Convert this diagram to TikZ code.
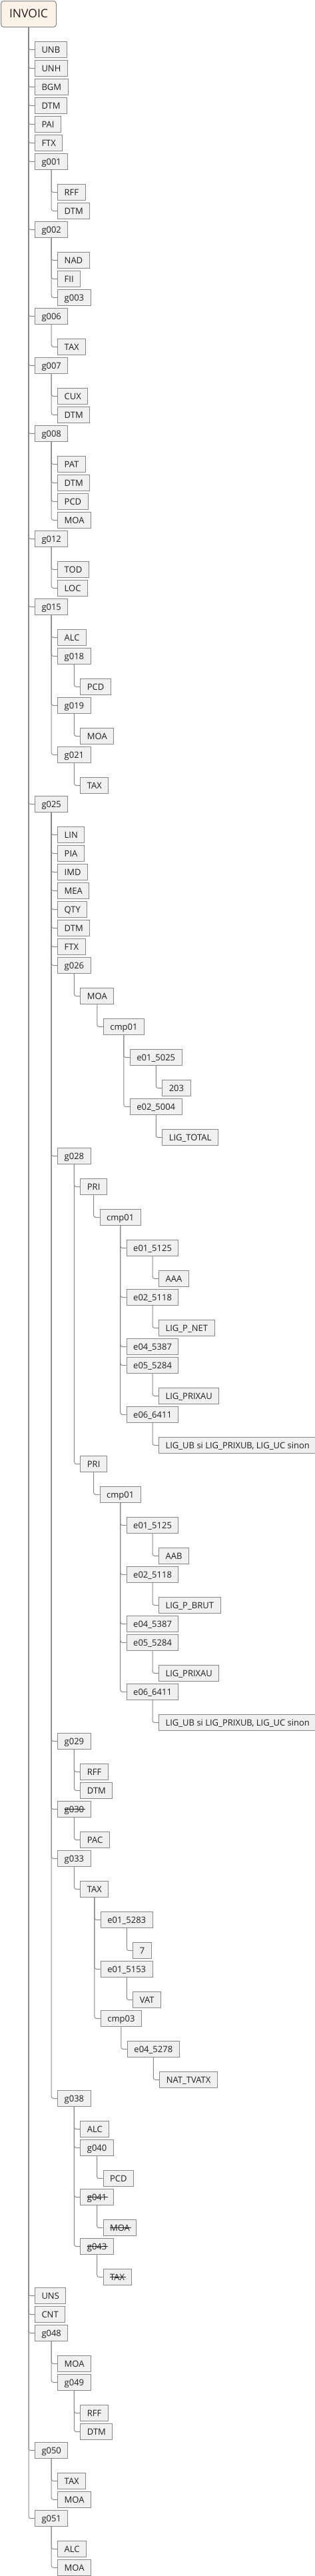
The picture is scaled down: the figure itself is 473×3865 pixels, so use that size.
\documentclass[tikz,border=0pt]{standalone}
\usepackage{fontspec}
\setmainfont{Open Sans}

\newlength\strucklen
\newcommand\struck[1]{\settowidth\strucklen{#1}%
  \rlap{\rule[0.33em]{\dimexpr\strucklen+2pt\relax}{0.9pt}}#1}

\begin{document}
\begin{tikzpicture}[x=1pt,y=1pt,
  box/.style={draw=edge,fill=boxfill,text=ink,anchor=north west,xshift=9pt,
    minimum height=24pt,inner xsep=10pt,inner ysep=3pt,
    text height=14pt,text depth=4pt,line width=1pt,
    font=\fontsize{13pt}{15pt}\selectfont},
  rootbox/.style={draw=edge,fill=rootfill,text=ink,anchor=north west,
    rounded corners=4pt,minimum width=83pt,minimum height=39pt,inner ysep=3pt,
    text height=22pt,text depth=11pt,line width=1pt,
    font=\fontsize{17.5pt}{20pt}\selectfont},
  link/.style={draw=edge,line width=1pt,rounded corners=3pt}]
  \colorlet{edge}{black!47}
  \colorlet{boxfill}{black!6}
  \definecolor{rootfill}{HTML}{FDF2E8}
  \colorlet{ink}{black!88}

  \useasboundingbox (0,0) rectangle (473,-3865);

  \node[rootbox] (invoic) at (1,-1) {INVOIC};

  % first level
  \node[box] (unb) at (invoic.south |- 0,-62) {UNB};
  \node[box] (unh) at (invoic.south |- 0,-90) {UNH};
  \node[box] (bgm) at (invoic.south |- 0,-118) {BGM};
  \node[box] (dtm) at (invoic.south |- 0,-146) {DTM};
  \node[box] (pai) at (invoic.south |- 0,-174) {PAI};
  \node[box] (ftx) at (invoic.south |- 0,-202) {FTX};
  \node[box] (g001) at (invoic.south |- 0,-230) {g001};
  \node[box] (g001rff) at (g001.south |- 0,-276) {RFF};
  \node[box] (g001dtm) at (g001.south |- 0,-304) {DTM};
  \node[box] (g002) at (invoic.south |- 0,-332) {g002};
  \node[box] (g002nad) at (g002.south |- 0,-378) {NAD};
  \node[box] (g002fii) at (g002.south |- 0,-406) {FII};
  \node[box] (g003) at (g002.south |- 0,-434) {g003};
  \node[box] (g006) at (invoic.south |- 0,-462) {g006};
  \node[box] (g006tax) at (g006.south |- 0,-508) {TAX};
  \node[box] (g007) at (invoic.south |- 0,-536) {g007};
  \node[box] (g007cux) at (g007.south |- 0,-582) {CUX};
  \node[box] (g007dtm) at (g007.south |- 0,-610) {DTM};
  \node[box] (g008) at (invoic.south |- 0,-638) {g008};
  \node[box] (g008pat) at (g008.south |- 0,-684) {PAT};
  \node[box] (g008dtm) at (g008.south |- 0,-712) {DTM};
  \node[box] (g008pcd) at (g008.south |- 0,-740) {PCD};
  \node[box] (g008moa) at (g008.south |- 0,-768) {MOA};
  \node[box] (g012) at (invoic.south |- 0,-796) {g012};
  \node[box] (g012tod) at (g012.south |- 0,-842) {TOD};
  \node[box] (g012loc) at (g012.south |- 0,-870) {LOC};
  \node[box] (g015) at (invoic.south |- 0,-898) {g015};
  \node[box] (g015alc) at (g015.south |- 0,-944) {ALC};
  \node[box] (g018) at (g015.south |- 0,-972) {g018};
  \node[box] (g018pcd) at (g018.south |- 0,-1018) {PCD};
  \node[box] (g019) at (g015.south |- 0,-1046) {g019};
  \node[box] (g019moa) at (g019.south |- 0,-1092) {MOA};
  \node[box] (g021) at (g015.south |- 0,-1120) {g021};
  \node[box] (g021tax) at (g021.south |- 0,-1166) {TAX};

  % line items
  \node[box] (g025) at (invoic.south |- 0,-1194) {g025};
  \node[box] (lin) at (g025.south |- 0,-1240) {LIN};
  \node[box] (pia) at (g025.south |- 0,-1268) {PIA};
  \node[box] (imd) at (g025.south |- 0,-1296) {IMD};
  \node[box] (mea) at (g025.south |- 0,-1324) {MEA};
  \node[box] (qty) at (g025.south |- 0,-1352) {QTY};
  \node[box] (g025dtm) at (g025.south |- 0,-1380) {DTM};
  \node[box] (g025ftx) at (g025.south |- 0,-1408) {FTX};
  \node[box] (g026) at (g025.south |- 0,-1436) {g026};
  \node[box] (g026moa) at (g026.south |- 0,-1482) {MOA};
  \node[box] (moacmp) at (g026moa.south |- 0,-1528) {cmp01};
  \node[box] (e5025) at (moacmp.south |- 0,-1574) {e01\_5025};
  \node[box] (v203) at (e5025.south |- 0,-1620) {203};
  \node[box] (e5004) at (moacmp.south |- 0,-1648) {e02\_5004};
  \node[box] (ligtotal) at (e5004.south |- 0,-1694) {LIG\_TOTAL};

  \node[box] (g028) at (g025.south |- 0,-1722) {g028};
  \node[box] (pria) at (g028.south |- 0,-1768) {PRI};
  \node[box] (pricmpa) at (pria.south |- 0,-1814) {cmp01};
  \node[box] (aa5125) at (pricmpa.south |- 0,-1860) {e01\_5125};
  \node[box] (aaa) at (aa5125.south |- 0,-1906) {AAA};
  \node[box] (aa5118) at (pricmpa.south |- 0,-1934) {e02\_5118};
  \node[box] (pnet) at (aa5118.south |- 0,-1980) {LIG\_P\_NET};
  \node[box] (aa5387) at (pricmpa.south |- 0,-2008) {e04\_5387};
  \node[box] (aa5284) at (pricmpa.south |- 0,-2036) {e05\_5284};
  \node[box] (aaprixau) at (aa5284.south |- 0,-2082) {LIG\_PRIXAU};
  \node[box] (aa6411) at (pricmpa.south |- 0,-2110) {e06\_6411};
  \node[box] (aaub) at (aa6411.south |- 0,-2156) {LIG\_UB si LIG\_PRIXUB, LIG\_UC sinon};
  \node[box] (prib) at (g028.south |- 0,-2184) {PRI};
  \node[box] (pricmpb) at (prib.south |- 0,-2230) {cmp01};
  \node[box] (ab5125) at (pricmpb.south |- 0,-2276) {e01\_5125};
  \node[box] (aab) at (ab5125.south |- 0,-2322) {AAB};
  \node[box] (ab5118) at (pricmpb.south |- 0,-2350) {e02\_5118};
  \node[box] (pbrut) at (ab5118.south |- 0,-2396) {LIG\_P\_BRUT};
  \node[box] (ab5387) at (pricmpb.south |- 0,-2424) {e04\_5387};
  \node[box] (ab5284) at (pricmpb.south |- 0,-2452) {e05\_5284};
  \node[box] (abprixau) at (ab5284.south |- 0,-2498) {LIG\_PRIXAU};
  \node[box] (ab6411) at (pricmpb.south |- 0,-2526) {e06\_6411};
  \node[box] (abub) at (ab6411.south |- 0,-2572) {LIG\_UB si LIG\_PRIXUB, LIG\_UC sinon};

  \node[box] (g029) at (g025.south |- 0,-2600) {g029};
  \node[box] (g029rff) at (g029.south |- 0,-2646) {RFF};
  \node[box] (g029dtm) at (g029.south |- 0,-2674) {DTM};
  \node[box] (g030) at (g025.south |- 0,-2702) {\struck{g030}};
  \node[box] (pac) at (g030.south |- 0,-2748) {PAC};
  \node[box] (g033) at (g025.south |- 0,-2776) {g033};
  \node[box] (g033tax) at (g033.south |- 0,-2822) {TAX};
  \node[box] (e5283) at (g033tax.south |- 0,-2868) {e01\_5283};
  \node[box] (v7) at (e5283.south |- 0,-2914) {7};
  \node[box] (e5153) at (g033tax.south |- 0,-2942) {e01\_5153};
  \node[box] (vat) at (e5153.south |- 0,-2988) {VAT};
  \node[box] (cmp03) at (g033tax.south |- 0,-3016) {cmp03};
  \node[box] (e5278) at (cmp03.south |- 0,-3062) {e04\_5278};
  \node[box] (nattvatx) at (e5278.south |- 0,-3108) {NAT\_TVATX};
  \node[box] (g038) at (g025.south |- 0,-3136) {g038};
  \node[box] (g038alc) at (g038.south |- 0,-3182) {ALC};
  \node[box] (g040) at (g038.south |- 0,-3210) {g040};
  \node[box] (g040pcd) at (g040.south |- 0,-3256) {PCD};
  \node[box] (g041) at (g038.south |- 0,-3284) {\struck{g041}};
  \node[box] (g041moa) at (g041.south |- 0,-3330) {\struck{MOA}};
  \node[box] (g043) at (g038.south |- 0,-3358) {\struck{g043}};
  \node[box] (g043tax) at (g043.south |- 0,-3404) {\struck{TAX}};

  % trailer
  \node[box] (uns) at (invoic.south |- 0,-3432) {UNS};
  \node[box] (cnt) at (invoic.south |- 0,-3460) {CNT};
  \node[box] (g048) at (invoic.south |- 0,-3488) {g048};
  \node[box] (g048moa) at (g048.south |- 0,-3534) {MOA};
  \node[box] (g049) at (g048.south |- 0,-3562) {g049};
  \node[box] (g049rff) at (g049.south |- 0,-3608) {RFF};
  \node[box] (g049dtm) at (g049.south |- 0,-3636) {DTM};
  \node[box] (g050) at (invoic.south |- 0,-3664) {g050};
  \node[box] (g050tax) at (g050.south |- 0,-3710) {TAX};
  \node[box] (g050moa) at (g050.south |- 0,-3738) {MOA};
  \node[box] (g051) at (invoic.south |- 0,-3766) {g051};
  \node[box] (g051alc) at (g051.south |- 0,-3812) {ALC};
  \node[box] (g051moa) at (g051.south |- 0,-3840) {MOA};

  \foreach \p/\c in {invoic/unb,invoic/unh,invoic/bgm,invoic/dtm,invoic/pai,
      invoic/ftx,invoic/g001,invoic/g002,invoic/g006,invoic/g007,invoic/g008,
      invoic/g012,invoic/g015,invoic/g025,invoic/uns,invoic/cnt,invoic/g048,
      invoic/g050,invoic/g051,
      g001/g001rff,g001/g001dtm,g002/g002nad,g002/g002fii,g002/g003,
      g006/g006tax,g007/g007cux,g007/g007dtm,g008/g008pat,g008/g008dtm,
      g008/g008pcd,g008/g008moa,g012/g012tod,g012/g012loc,g015/g015alc,
      g015/g018,g015/g019,g015/g021,g018/g018pcd,g019/g019moa,g021/g021tax,
      g025/lin,g025/pia,g025/imd,g025/mea,g025/qty,g025/g025dtm,g025/g025ftx,
      g025/g026,g025/g028,g025/g029,g025/g030,g025/g033,g025/g038,
      g026/g026moa,g026moa/moacmp,moacmp/e5025,moacmp/e5004,e5025/v203,
      e5004/ligtotal,
      g028/pria,g028/prib,pria/pricmpa,prib/pricmpb,
      pricmpa/aa5125,pricmpa/aa5118,pricmpa/aa5387,pricmpa/aa5284,
      pricmpa/aa6411,aa5125/aaa,aa5118/pnet,aa5284/aaprixau,aa6411/aaub,
      pricmpb/ab5125,pricmpb/ab5118,pricmpb/ab5387,pricmpb/ab5284,
      pricmpb/ab6411,ab5125/aab,ab5118/pbrut,ab5284/abprixau,ab6411/abub,
      g029/g029rff,g029/g029dtm,g030/pac,g033/g033tax,g033tax/e5283,
      g033tax/e5153,g033tax/cmp03,e5283/v7,e5153/vat,cmp03/e5278,
      e5278/nattvatx,g038/g038alc,g038/g040,g038/g041,g038/g043,
      g040/g040pcd,g041/g041moa,g043/g043tax,
      g048/g048moa,g048/g049,g049/g049rff,g049/g049dtm,
      g050/g050tax,g050/g050moa,g051/g051alc,g051/g051moa}
    \draw[link] (\p.south) |- (\c.west);
\end{tikzpicture}
\end{document}
